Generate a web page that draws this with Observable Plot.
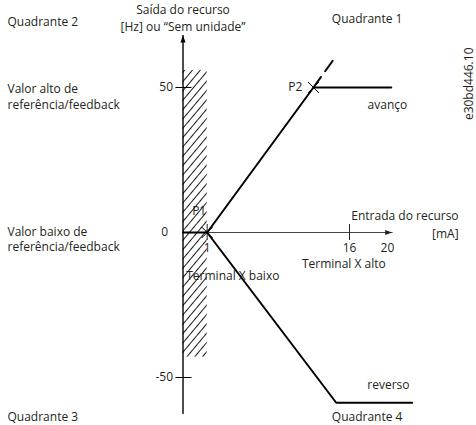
<!DOCTYPE html>
<html><head><meta charset="utf-8">
<script src="https://cdn.jsdelivr.net/npm/d3@7"></script>
<script src="https://cdn.jsdelivr.net/npm/@observablehq/plot@0.6"></script>
<style>body{margin:0;background:#fff} svg{display:block}</style>
</head><body><div id="chart"></div>
<script>
// ---- data (in chart units: x = mA, y = output) ----
const axisX = -1.55;                 // where the vertical (output) axis sits
const yAxisRange = [-62.4, 67.9];    // vertical axis extent
const xAxisRange = [axisX, 20.5];    // horizontal axis extent
const yTickValues = [50, -50];
const yTickLabels = ["50", "-50"];
const xTickValues = [1, 16];
const xLabelValues = [1, 16, 20];
const xLabelTexts = ["1", "16", "20"];
const forwardX = [axisX, 1, 12.2, 20.4];
const forwardY = [0, 0, 50, 50];
const dashedX = [12.2, 14.4];
const dashedY = [50, 60];
const reverseX = [1, 14.6, 22.6];
const reverseY = [0, -58.7, -58.7];
const pointX = [1, 12.2];
const pointY = [0, 50];
const pointNames = ["P1", "P2"];
const hatchX = [axisX, 1];
const hatchY = [-43, 55.9];

const pts = (xs, ys) => xs.map((x, i) => ({x, y: ys[i]}));
const ink = "#231f20";

const arrowHead = {
  draw(ctx, size) {
    const r = Math.sqrt(size / Math.PI);
    ctx.moveTo(0, 0);
    ctx.lineTo(-0.7 * r, 1.9 * r);
    ctx.lineTo(0.7 * r, 1.9 * r);
    ctx.closePath();
  }
};

const chart = Plot.plot({
  width: 476,
  height: 425,
  margin: 0,
  x: {domain: [1, 16], range: [206.7, 349], axis: null},
  y: {domain: [-50, 50], range: [377, 87], axis: null},
  style: {fontFamily: "'Open Sans', sans-serif", fontSize: "12px", color: ink, background: "white"},
  marks: [
    // hatched zone
    Plot.rect([{x1: hatchX[0], x2: hatchX[1], y1: hatchY[0], y2: hatchY[1]}],
      {x1: "x1", x2: "x2", y1: "y1", y2: "y2", fill: "url(#hatch)"}),
    // horizontal axis
    Plot.line(pts(xAxisRange, [0, 0]), {x: "x", y: "y", stroke: "#444", strokeWidth: 1}),
    Plot.dot([{x: xAxisRange[1], y: 0}], {x: "x", y: "y", symbol: arrowHead, r: 3.7, fill: "#222", stroke: "none", rotate: 90}),
    // vertical axis
    Plot.line(pts([axisX, axisX], yAxisRange), {x: "x", y: "y", stroke: "#000", strokeWidth: 1.4}),
    Plot.dot([{x: axisX, y: yAxisRange[1]}], {x: "x", y: "y", symbol: arrowHead, r: 3.7, fill: "#000", stroke: "none"}),
    // y ticks
    Plot.ruleY(yTickValues, {y: d => d, x1: axisX - 0.75, x2: axisX + 0.95, stroke: "#000", strokeWidth: 1}),
    Plot.text(yTickValues, {x: axisX, y: d => d, text: (d, i) => yTickLabels[i], textAnchor: "end", dx: -10, fill: ink}),
    Plot.text([0], {x: axisX, y: d => d, text: d => String(d), textAnchor: "end", dx: -15, fill: ink}),
    // x ticks
    Plot.ruleX(xTickValues, {x: d => d, y1: -2.76, y2: 2.76, stroke: "#222", strokeWidth: 1}),
    Plot.text(xLabelValues, {x: d => d, y: 0, text: (d, i) => xLabelTexts[i], dy: 16, fill: ink}),
    // forward / reverse lines
    Plot.line(pts(forwardX, forwardY), {x: "x", y: "y", stroke: "#000", strokeWidth: 2}),
    Plot.line(pts(dashedX, dashedY), {x: "x", y: "y", stroke: "#000", strokeWidth: 2, strokeDasharray: "13,7"}),
    Plot.line(pts(reverseX, reverseY), {x: "x", y: "y", stroke: "#000", strokeWidth: 2}),
    // points
    Plot.dot(pts(pointX, pointY), {x: "x", y: "y", symbol: "times", r: 5, stroke: "#000", strokeWidth: 1}),
    Plot.text([pointNames[0]], {x: pointX[0], y: pointY[0], text: d => d, dx: -8, dy: -21, fill: ink}),
    Plot.text([pointNames[1]], {x: pointX[1], y: pointY[1], text: d => d, textAnchor: "end", dx: -11, fill: ink}),
    // line annotations
    Plot.text(["avanço"], {x: 20, y: 50, text: d => d, dy: 18, fill: ink}),
    Plot.text(["reverso"], {x: 20.1, y: -58.7, text: d => d, dy: -18, fill: ink}),
    Plot.text(["Terminal X alto"], {x: 15.4, y: 0, text: d => d, dy: 32, fill: ink}),
    Plot.text(["Terminal X baixo"], {x: 3.7, y: 0, text: d => d, dy: 44, fill: ink}),
    Plot.text(["Entrada do recurso"], {x: 27.5, y: 0, text: d => d, textAnchor: "end", dy: -16, fill: ink}),
    Plot.text(["[mA]"], {x: 27.5, y: 0, text: d => d, textAnchor: "end", dy: 2, fill: ink}),
    // axis title
    Plot.text(["Saída do recurso"], {x: axisX, frameAnchor: "top", text: d => d, lineAnchor: "middle", dy: 10, fill: ink}),
    Plot.text(["[Hz] ou “Sem unidade”"], {x: axisX, frameAnchor: "top", text: d => d, lineAnchor: "middle", dy: 27, fill: ink}),
    // left labels
    Plot.text(["Valor alto de\nreferência/feedback"], {y: 50, frameAnchor: "left", text: d => d, textAnchor: "start", lineAnchor: "middle", dx: 7, dy: 8.1, lineHeight: 1.35, fill: ink}),
    Plot.text(["Valor baixo de\nreferência/feedback"], {y: 0, frameAnchor: "left", text: d => d, textAnchor: "start", lineAnchor: "middle", dx: 7, dy: 6.1, lineHeight: 1.3, fill: ink}),
    // quadrants
    Plot.text(["Quadrante 2"], {frameAnchor: "top-left", text: d => d, textAnchor: "start", lineAnchor: "middle", dx: 7, dy: 22, fill: ink}),
    Plot.text(["Quadrante 3"], {frameAnchor: "bottom-left", text: d => d, textAnchor: "start", lineAnchor: "middle", dx: 7, dy: -8, fill: ink}),
    Plot.text(["Quadrante 1"], {x: 17.86, frameAnchor: "top", text: d => d, lineAnchor: "middle", dy: 19, fill: ink}),
    Plot.text(["Quadrante 4"], {x: 17.86, frameAnchor: "bottom", text: d => d, lineAnchor: "middle", dy: -8, fill: ink}),
    // figure code
    Plot.text(["e30bd446.10"], {frameAnchor: "top-right", text: d => d, rotate: -90, lineAnchor: "middle", dx: -7, dy: 47, fill: ink})
  ]
});

// hatch pattern definition
const ns = "http://www.w3.org/2000/svg";
const defs = document.createElementNS(ns, "defs");
defs.innerHTML = '<pattern id="hatch" patternUnits="userSpaceOnUse" width="6" height="6" patternTransform="rotate(40)"><line x1="0.5" y1="0" x2="0.5" y2="6" stroke="#000" stroke-width="0.9"/></pattern>';
chart.insertBefore(defs, chart.firstChild);

document.getElementById("chart").appendChild(chart);
</script>
</body></html>
